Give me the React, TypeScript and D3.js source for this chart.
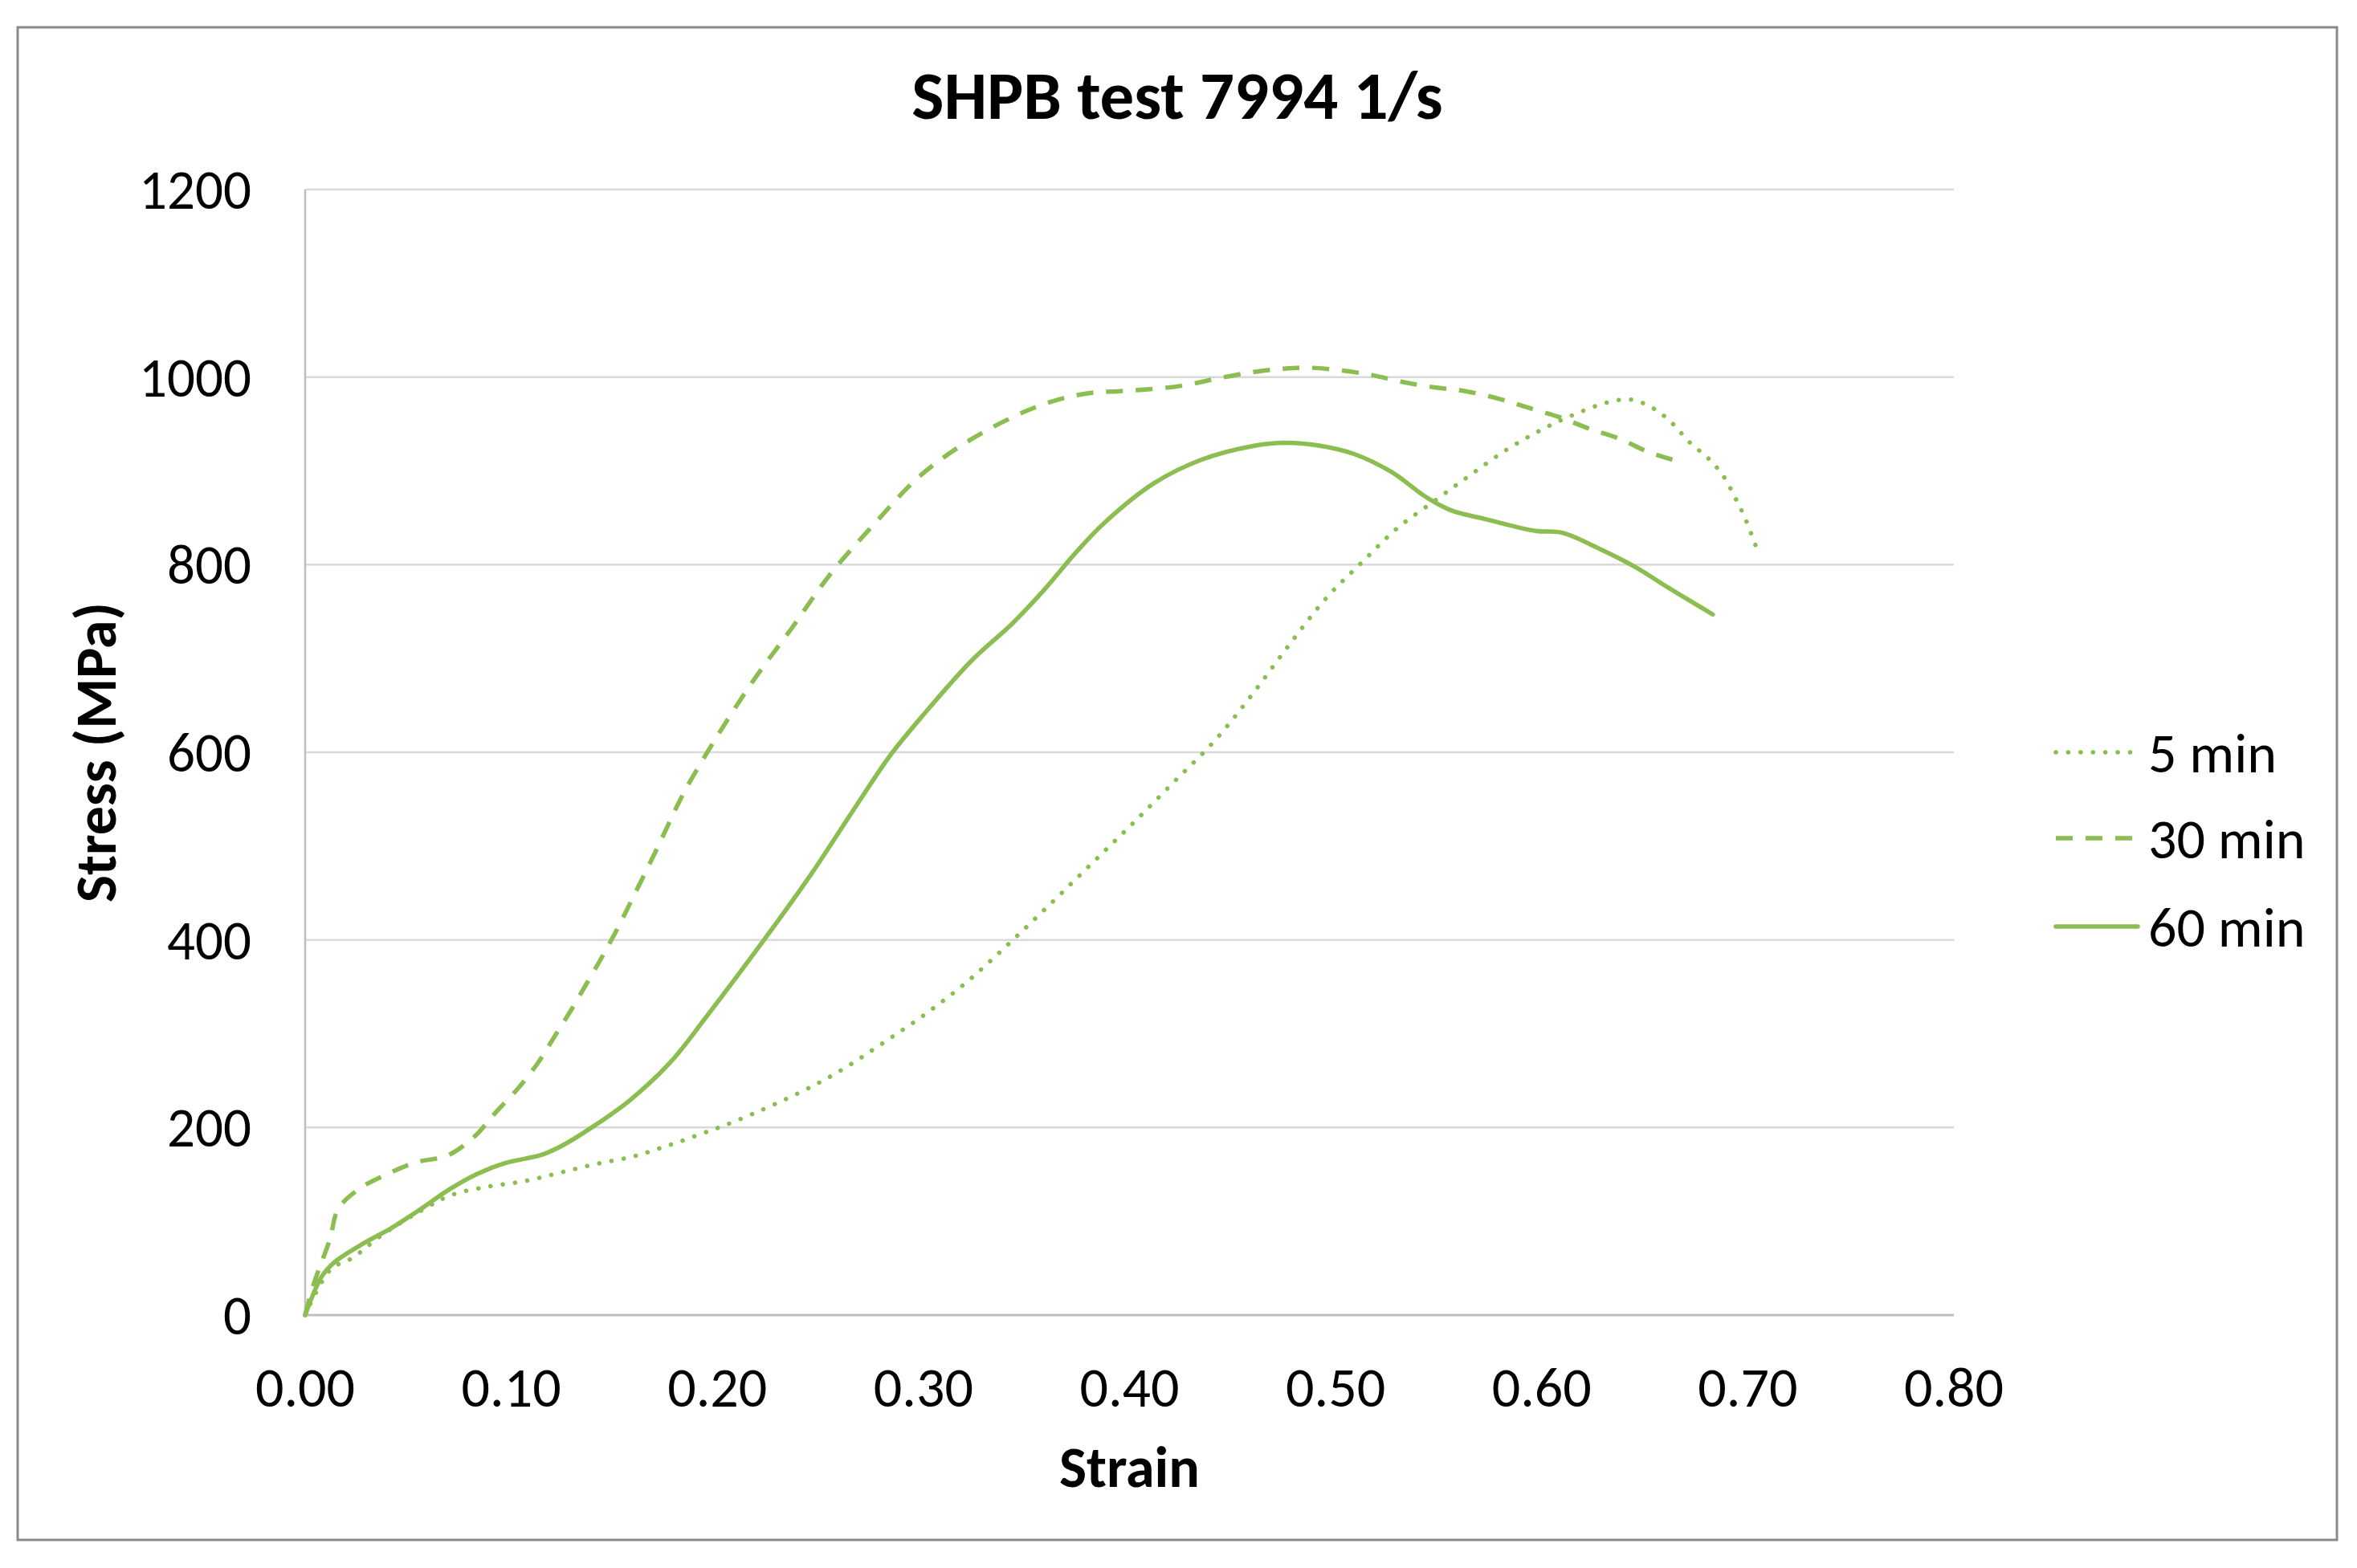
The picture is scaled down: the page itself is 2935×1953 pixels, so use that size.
import React from "react";
import * as d3 from "d3";

const xTicks = [0, 0.1, 0.2, 0.3, 0.4, 0.5, 0.6, 0.7, 0.8];
const yTicks = [0, 200, 400, 600, 800, 1000, 1200];

const seriesNames = ["5 min", "30 min", "60 min"];

const min5: [number, number][] = [
  [0, 0], [0.0125, 49], [0.023, 61], [0.037, 85], [0.056, 111], [0.071, 128], [0.089, 137],
  [0.107, 143], [0.124, 152], [0.141, 161], [0.159, 169], [0.175, 180], [0.192, 193],
  [0.209, 207], [0.2416, 239], [0.2615, 263], [0.281, 291], [0.301, 321], [0.321, 355],
  [0.341, 395], [0.361, 437], [0.381, 480], [0.4006, 522], [0.4205, 566], [0.442, 614],
  [0.46, 663], [0.478, 716], [0.4957, 765], [0.513, 803], [0.53, 839], [0.548, 868],
  [0.565, 895], [0.5826, 922], [0.6, 944], [0.6157, 960], [0.632, 973], [0.6434, 976],
  [0.6547, 966], [0.6637, 950], [0.672, 930], [0.681, 913], [0.688, 895], [0.694, 871],
  [0.699, 848], [0.7054, 811],
];

const min30: [number, number][] = [
  [0, 0], [0.004, 32], [0.012, 81], [0.016, 113], [0.0265, 135], [0.0405, 151], [0.054, 163],
  [0.069, 170], [0.082, 190], [0.092, 215], [0.103, 241], [0.113, 269], [0.121, 297],
  [0.129, 325], [0.137, 355], [0.1446, 384], [0.152, 414], [0.159, 445], [0.166, 476],
  [0.1726, 506], [0.179, 536], [0.185, 562], [0.201, 621], [0.2186, 680], [0.236, 732],
  [0.2545, 789], [0.276, 843], [0.298, 894], [0.3227, 933], [0.35, 964], [0.367, 977],
  [0.381, 983], [0.395, 985], [0.41, 987], [0.426, 991], [0.4415, 998], [0.459, 1005],
  [0.475, 1009], [0.487, 1010], [0.503, 1007], [0.518, 1002], [0.532, 995], [0.548, 989],
  [0.563, 985], [0.579, 977], [0.594, 967], [0.609, 957], [0.623, 945], [0.638, 934],
  [0.652, 920], [0.665, 911],
];

const min60: [number, number][] = [
  [0, 0], [0.008, 41], [0.014, 56], [0.028, 76], [0.042, 93], [0.056, 113], [0.07, 134],
  [0.083, 150], [0.097, 162], [0.115, 171], [0.125, 181], [0.139, 200], [0.157, 228],
  [0.177, 269], [0.195, 319], [0.223, 401], [0.2455, 470], [0.268, 545], [0.284, 597],
  [0.3, 640], [0.3235, 698], [0.343, 737], [0.3585, 773], [0.374, 813], [0.388, 845],
  [0.412, 887], [0.435, 912], [0.461, 927], [0.475, 930], [0.492, 927], [0.509, 918],
  [0.527, 899], [0.544, 872], [0.556, 858], [0.572, 849], [0.597, 836], [0.61, 834],
  [0.628, 817], [0.645, 798], [0.6625, 774], [0.683, 747],
];

const GREEN = "#8cbd50";
const FONT = "Carlito, Lato, 'Open Sans', sans-serif";

export default function App() {
  const W = 2935, H = 1953;
  const x = d3.scaleLinear().domain([0, 0.8]).range([380, 2433]);
  const y = d3.scaleLinear().domain([0, 1200]).range([1638, 236]);
  const line = d3
    .line<[number, number]>()
    .x((d) => x(d[0]))
    .y((d) => y(d[1]))
    .curve(d3.curveCatmullRom.alpha(0.5));

  const series = [
    { name: seriesNames[0], data: min5, dash: "0.1 15.3", cap: "round" as const },
    { name: seriesNames[1], data: min30, dash: "21 16", cap: "butt" as const },
    { name: seriesNames[2], data: min60, dash: "none", cap: "round" as const },
  ];
  const legendY = [937, 1044, 1154];

  return (
    <svg
      width={W}
      height={H}
      style={{ position: "absolute", left: 0, top: 0, background: "#fff" }}
      fontFamily={FONT}
    >
      <rect x={0} y={0} width={W} height={H} fill="#fff" />
      <rect x={22} y={34} width={2888} height={1884} fill="none" stroke="#8a8a8a" strokeWidth={3} />

      {yTicks.map((t) =>
        t === 0 ? null : (
          <line key={"g" + t} x1={x(0)} x2={x(0.8)} y1={y(t)} y2={y(t)} stroke="#d9d9d9" strokeWidth={2.5} />
        )
      )}
      <line x1={x(0)} x2={x(0)} y1={y(1200)} y2={y(0)} stroke="#bfbfbf" strokeWidth={2.5} />
      <line x1={x(0)} x2={x(0.8)} y1={y(0)} y2={y(0)} stroke="#bfbfbf" strokeWidth={3} />

      {yTicks.map((t) => (
        <text key={"yt" + t} x={313} y={y(t)} dy="0.35em" textAnchor="end" fontSize={69} fill="#000">
          {t}
        </text>
      ))}
      {xTicks.map((t) => (
        <text key={"xt" + t} x={x(t)} y={1752} textAnchor="middle" fontSize={70} fill="#000">
          {t.toFixed(2)}
        </text>
      ))}

      <text x={1466} y={148} textAnchor="middle" fontSize={85} fontWeight="bold" fill="#000">
        SHPB test 7994 1/s
      </text>
      <text x={(x(0) + x(0.8)) / 2} y={1852} textAnchor="middle" fontSize={72} fontWeight="bold" fill="#000">
        Strain
      </text>
      <text
        transform={`translate(144, ${(y(0) + y(1200)) / 2}) rotate(-90)`}
        textAnchor="middle"
        fontSize={72}
        fontWeight="bold"
        fill="#000"
      >
        Stress (MPa)
      </text>

      {series.map((s) => (
        <path
          key={s.name}
          d={line(s.data) || ""}
          fill="none"
          stroke={GREEN}
          strokeWidth={5.5}
          strokeDasharray={s.dash}
          strokeLinecap={s.cap}
          strokeLinejoin="round"
        />
      ))}

      {series.map((s, i) => (
        <g key={"lg" + s.name}>
          <line
            x1={2560}
            x2={2662}
            y1={legendY[i]}
            y2={legendY[i]}
            stroke={GREEN}
            strokeWidth={5.5}
            strokeDasharray={s.dash}
            strokeLinecap={s.cap}
          />
          <text x={2675} y={legendY[i]} dy="0.36em" fontSize={70} fill="#000">
            {s.name}
          </text>
        </g>
      ))}
    </svg>
  );
}
